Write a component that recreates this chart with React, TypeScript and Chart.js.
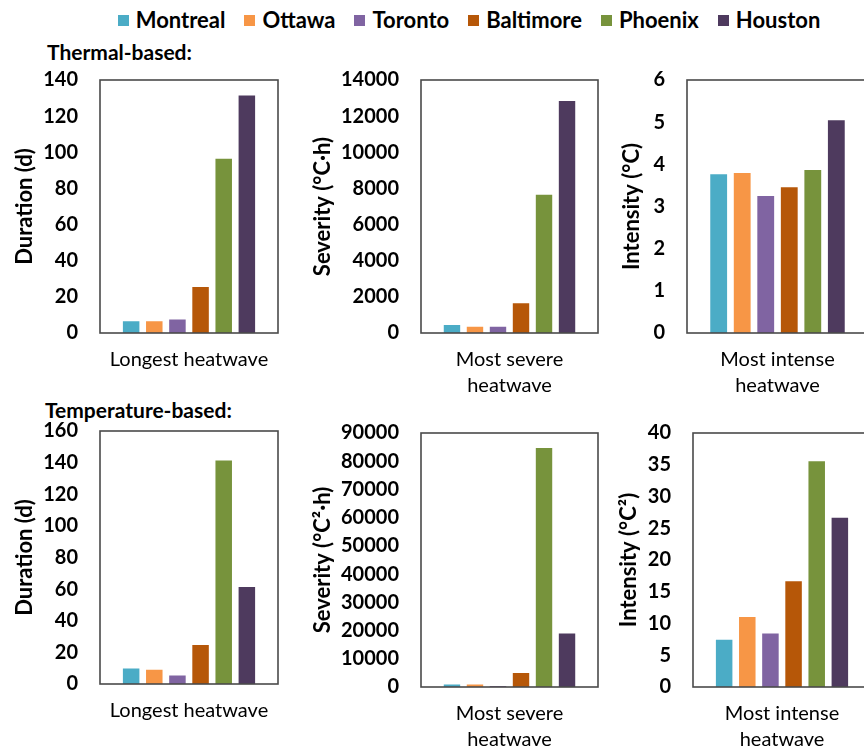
import React, { useEffect, useRef } from 'react';
import { Chart, registerables } from 'chart.js';

Chart.register(...registerables);

// ---------- data ----------
const cities = ['Montreal', 'Ottawa', 'Toronto', 'Baltimore', 'Phoenix', 'Houston'];
const cityColors = ['#4BACC6', '#F79646', '#8064A2', '#B65708', '#77933C', '#4E3A5E'];

const thermalDuration = [7, 7, 8, 26, 97, 132];
const thermalSeverity = [500, 400, 400, 1700, 7700, 12900];
const thermalIntensity = [3.79, 3.82, 3.27, 3.48, 3.89, 5.07];

const tempDuration = [10.5, 9.7, 6, 25.3, 142, 62];
const tempSeverity = [1200, 1200, 700, 5300, 85000, 19300];
const tempIntensity = [7.6, 11.2, 8.6, 16.8, 35.7, 26.8];

const labelLongest = ['Longest heatwave'];
const labelSevere = [['Most severe', 'heatwave']];
const labelIntense = [['Most intense', 'heatwave']];

const titleDuration = 'Duration (d)';
const titleSeverityThermal = 'Severity (°C·h)';
const titleIntensityThermal = 'Intensity (°C)';
const titleSeverityTemp = 'Severity (°C²·h)';
const titleIntensityTemp = 'Intensity (°C²)';

const axisMaxThermal = [140, 14000, 6];
const axisStepThermal = [20, 2000, 1];
const axisMaxTemp = [160, 90000, 40];
const axisStepTemp = [20, 10000, 5];

const headingThermal = 'Thermal-based:';
const headingTemp = 'Temperature-based:';

// ---------- style ----------
const FONT = 'Lato, "DejaVu Sans", sans-serif';
const X_AXIS_H = 80;
const PAD_RIGHT = 20;

const boxPlugin = {
  id: 'plotBox',
  afterDatasetsDraw(chart: any) {
    const { ctx, chartArea } = chart;
    ctx.save();
    ctx.strokeStyle = '#4a4a4a';
    ctx.lineWidth = 1.6;
    ctx.strokeRect(chartArea.left, chartArea.top, chartArea.right - chartArea.left, chartArea.bottom - chartArea.top);
    ctx.restore();
  },
};

type PanelProps = {
  values: number[];
  labels: any[];
  title: string;
  max: number;
  step: number;
  left: number;
  top: number;
  chartLeft: number;
  chartTop: number;
  chartRight: number;
  chartBottom: number;
};

function Panel(p: PanelProps) {
  const ref = useRef<HTMLCanvasElement | null>(null);
  const width = p.chartRight - p.left + PAD_RIGHT;
  const height = p.chartBottom - p.top + X_AXIS_H;
  const yWidth = p.chartLeft - p.left;
  const padTop = p.chartTop - p.top;

  useEffect(() => {
    if (!ref.current) return;
    const chart = new Chart(ref.current, {
      type: 'bar',
      data: {
        labels: p.labels,
        datasets: cities.map((c, i) => ({
          label: c,
          data: [p.values[i]],
          backgroundColor: cityColors[i],
          borderColor: 'rgba(255,255,255,0.6)',
          borderWidth: 1,
          categoryPercentage: 0.78,
          barPercentage: 0.8,
        })),
      },
      options: {
        responsive: false,
        animation: false,
        devicePixelRatio: 1,
        layout: { padding: { top: padTop, right: PAD_RIGHT, bottom: 0, left: 0 } },
        plugins: { legend: { display: false }, tooltip: { enabled: false } },
        scales: {
          x: {
            grid: { display: false, drawTicks: false },
            border: { display: false },
            ticks: {
              font: { family: FONT, size: 20, lineHeight: 1.3 },
              color: '#000',
              padding: 14,
              maxRotation: 0,
              autoSkip: false,
            },
            afterFit: (s: any) => {
              s.height = X_AXIS_H;
              s.paddingLeft = 0;
              s.paddingRight = 0;
            },
          },
          y: {
            min: 0,
            max: p.max,
            grid: { display: false, drawTicks: false },
            border: { display: false },
            ticks: {
              stepSize: p.step,
              autoSkip: false,
              font: { family: FONT, size: 20, weight: 'bold' },
              color: '#000',
              padding: 22,
              callback: (v: any) => String(v),
            },
            title: {
              display: true,
              text: p.title,
              font: { family: FONT, size: 22, weight: 'bold', lineHeight: 1.2 },
              color: '#000',
              padding: { top: 3, bottom: 0 },
            },
            afterFit: (s: any) => {
              s.width = yWidth;
              s.paddingTop = 0;
              s.paddingBottom = 0;
            },
          },
        },
      } as any,
      plugins: [boxPlugin],
    });
    return () => chart.destroy();
  }, []);

  return (
    <canvas
      ref={ref}
      width={width}
      height={height}
      style={{ position: 'absolute', left: p.left, top: p.top, width, height }}
    />
  );
}

const headingStyle: React.CSSProperties = {
  position: 'absolute',
  fontWeight: 'bold',
  fontSize: 21,
  lineHeight: '26px',
  color: '#000',
  whiteSpace: 'nowrap',
};

export default function App() {
  return (
    <div
      style={{
        position: 'absolute',
        left: 0,
        top: 0,
        width: 864,
        height: 751,
        overflow: 'hidden',
        background: '#fff',
        fontFamily: FONT,
      }}
    >
      <div
        style={{
          position: 'absolute',
          left: 0,
          top: 7,
          width: 938,
          height: 26,
          display: 'flex',
          justifyContent: 'center',
          alignItems: 'center',
          gap: 19,
        }}
      >
        {cities.map((c, i) => (
          <div key={c} style={{ display: 'flex', alignItems: 'center', gap: 7 }}>
            <div style={{ width: 11, height: 11, background: cityColors[i] }} />
            <span style={{ fontWeight: 'bold', fontSize: 22, lineHeight: '26px', color: '#000' }}>{c}</span>
          </div>
        ))}
      </div>
      <div style={{ ...headingStyle, left: 47, top: 39 }}>{headingThermal}</div>
      <div style={{ ...headingStyle, left: 45, top: 397 }}>{headingTemp}</div>

      <Panel values={thermalDuration} labels={labelLongest} title={titleDuration} max={axisMaxThermal[0]} step={axisStepThermal[0]}
        left={9} top={60} chartLeft={100} chartTop={80} chartRight={278} chartBottom={333} />
      <Panel values={thermalSeverity} labels={labelSevere} title={titleSeverityThermal} max={axisMaxThermal[1]} step={axisStepThermal[1]}
        left={307} top={60} chartLeft={421} chartTop={80} chartRight={598} chartBottom={333} />
      <Panel values={thermalIntensity} labels={labelIntense} title={titleIntensityThermal} max={axisMaxThermal[2]} step={axisStepThermal[2]}
        left={616} top={60} chartLeft={687} chartTop={80} chartRight={868} chartBottom={333} />

      <Panel values={tempDuration} labels={labelLongest} title={titleDuration} max={axisMaxTemp[0]} step={axisStepTemp[0]}
        left={9} top={410} chartLeft={100} chartTop={431} chartRight={278} chartBottom={684} />
      <Panel values={tempSeverity} labels={labelSevere} title={titleSeverityTemp} max={axisMaxTemp[1]} step={axisStepTemp[1]}
        left={307} top={412} chartLeft={421} chartTop={433} chartRight={598} chartBottom={687} />
      <Panel values={tempIntensity} labels={labelIntense} title={titleIntensityTemp} max={axisMaxTemp[2]} step={axisStepTemp[2]}
        left={613} top={412} chartLeft={693} chartTop={433} chartRight={871} chartBottom={687} />
    </div>
  );
}
